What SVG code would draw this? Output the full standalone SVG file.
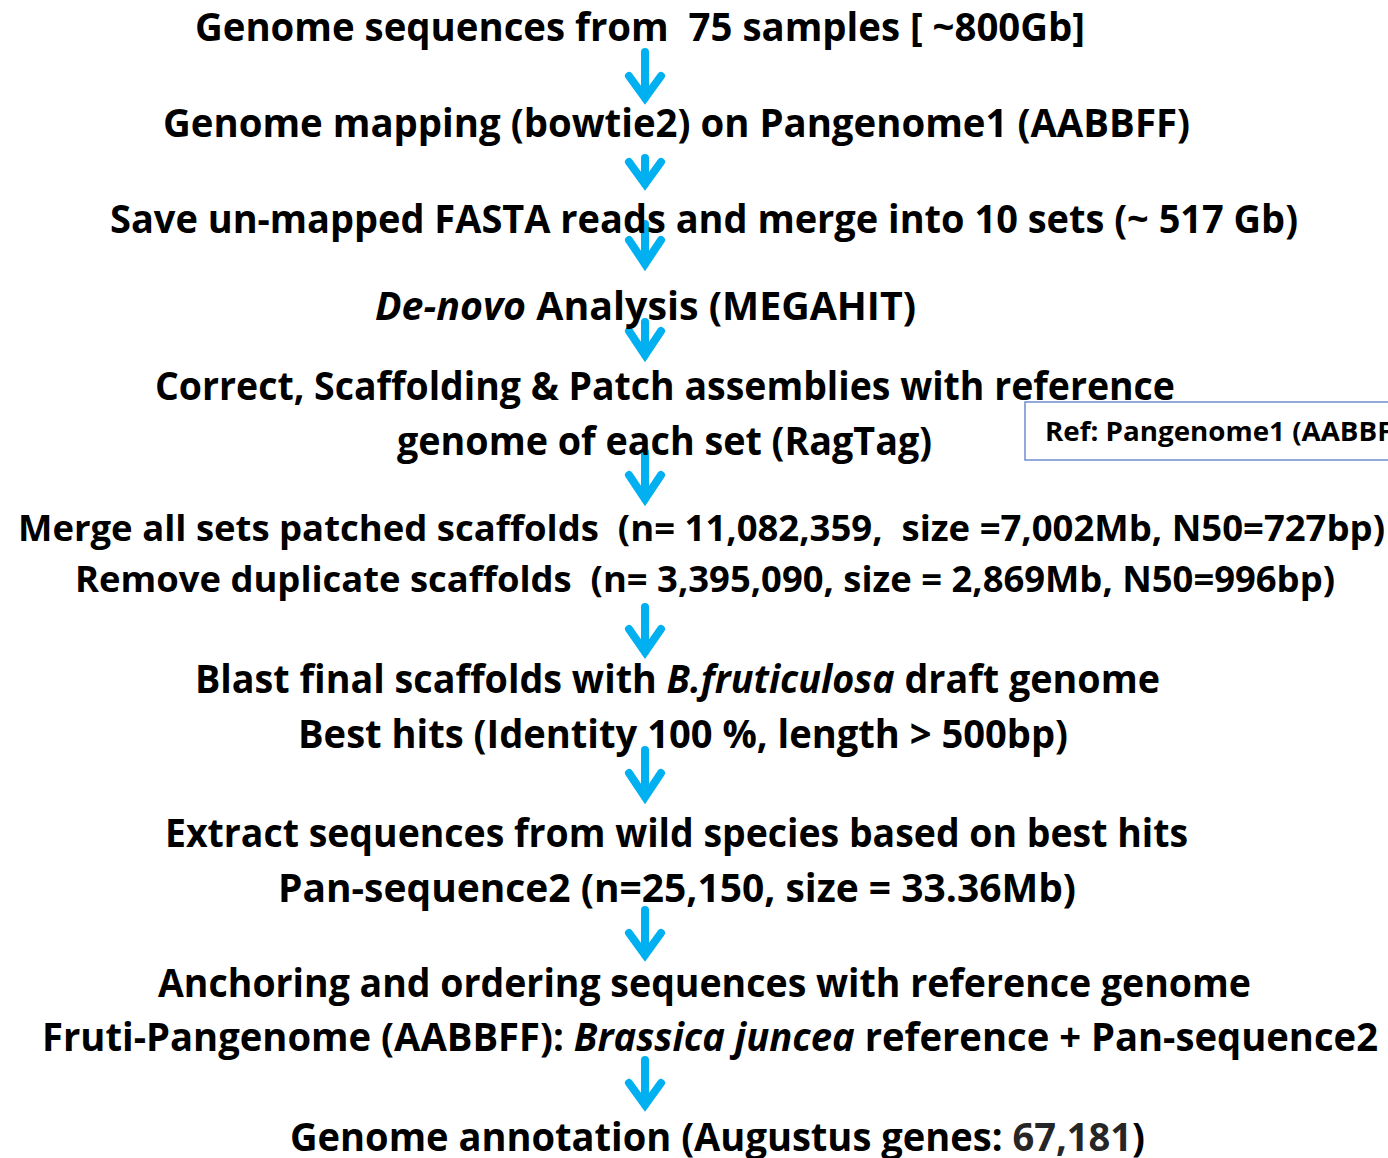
<svg xmlns="http://www.w3.org/2000/svg" width="1388" height="1158" viewBox="0 0 1388 1158">
<style>
.t{font-family:"Open Sans","Noto Sans","Liberation Sans",sans-serif;font-weight:bold;font-size:40px;fill:#000}
.s{font-size:36px}
.i{font-style:italic}
.arr{fill:none;stroke:#00B0F0;stroke-width:8;stroke-linecap:round;stroke-linejoin:miter;stroke-miterlimit:10}
.box{fill:#fff;stroke:#6F8FCF;stroke-width:1.5}
.bt{font-family:"Open Sans","Noto Sans","Liberation Sans",sans-serif;font-weight:bold;font-size:27px;fill:#000}
</style>
<rect width="1388" height="1158" fill="#fff"/>
<g id="connectors">
<path class="arr" d="M645 52V98M629 76L645 98L661 76"/>
<path class="arr" d="M645 158V184M629 162L645 184L661 162"/>
<path class="arr" d="M645 224V264M629 240L645 264L661 240"/>
<path class="arr" d="M645 322V355M629 331L645 355L661 331"/>
<path class="arr" d="M645 452V499M629 475L645 499L661 475"/>
<path class="arr" d="M645 607V652M629 629L645 652L661 629"/>
<path class="arr" d="M645 750V797M629 773L645 797L661 773"/>
<path class="arr" d="M645 910V955M629 933L645 955L661 933"/>
<path class="arr" d="M645 1060V1105M629 1083L645 1105L661 1083"/>
</g>
<g id="n1"><text class="t" x="195" y="41" textLength="890" lengthAdjust="spacingAndGlyphs" xml:space="preserve">Genome sequences from  75 samples [ ~800Gb]</text></g>
<g id="n2"><text class="t" x="163" y="137" textLength="1027" lengthAdjust="spacingAndGlyphs">Genome mapping (bowtie2) on Pangenome1 (AABBFF)</text></g>
<g id="n3"><text class="t" x="110" y="233" textLength="1188" lengthAdjust="spacingAndGlyphs">Save un-mapped FASTA reads and merge into 10 sets (~ 517 Gb)</text></g>
<g id="n4"><text class="t" x="375" y="320" textLength="541" lengthAdjust="spacingAndGlyphs"><tspan class="i">De-novo</tspan> Analysis (MEGAHIT)</text></g>
<g id="n5">
<text class="t" x="155" y="400" textLength="1020" lengthAdjust="spacingAndGlyphs">Correct, Scaffolding &amp; Patch assemblies with reference</text>
<text class="t" x="397" y="455" textLength="535" lengthAdjust="spacingAndGlyphs">genome of each set (RagTag)</text>
</g>
<g id="ref">
<rect class="box" x="1025" y="402" width="400" height="58"/>
<text class="bt" x="1045" y="441" textLength="372" lengthAdjust="spacingAndGlyphs">Ref: Pangenome1 (AABBFF)</text>
</g>
<g id="n6">
<text class="t s" x="18" y="541" textLength="1367" lengthAdjust="spacingAndGlyphs" xml:space="preserve">Merge all sets patched scaffolds  (n= 11,082,359,  size =7,002Mb, N50=727bp)</text>
<text class="t s" x="75" y="592" textLength="1260" lengthAdjust="spacingAndGlyphs" xml:space="preserve">Remove duplicate scaffolds  (n= 3,395,090, size = 2,869Mb, N50=996bp)</text>
</g>
<g id="n7">
<text class="t" x="195" y="693" textLength="965" lengthAdjust="spacingAndGlyphs">Blast final scaffolds with <tspan class="i">B.fruticulosa</tspan> draft genome</text>
<text class="t" x="298" y="748" textLength="770" lengthAdjust="spacingAndGlyphs">Best hits (Identity 100 %, length &gt; 500bp)</text>
</g>
<g id="n8">
<text class="t" x="165" y="847" textLength="1023" lengthAdjust="spacingAndGlyphs">Extract sequences from wild species based on best hits</text>
<text class="t" x="278" y="902" textLength="798" lengthAdjust="spacingAndGlyphs">Pan-sequence2 (n=25,150, size = 33.36Mb)</text>
</g>
<g id="n9">
<text class="t" x="158" y="997" textLength="1093" lengthAdjust="spacingAndGlyphs">Anchoring and ordering sequences with reference genome</text>
<text class="t" x="42" y="1051" textLength="1336" lengthAdjust="spacingAndGlyphs">Fruti-Pangenome (AABBFF): <tspan class="i">Brassica juncea</tspan> reference + Pan-sequence2</text>
</g>
<g id="n10"><text class="t" x="290" y="1151" textLength="855" lengthAdjust="spacingAndGlyphs">Genome annotation (Augustus genes: <tspan fill="#262626">67,181</tspan>)</text></g>
</svg>
